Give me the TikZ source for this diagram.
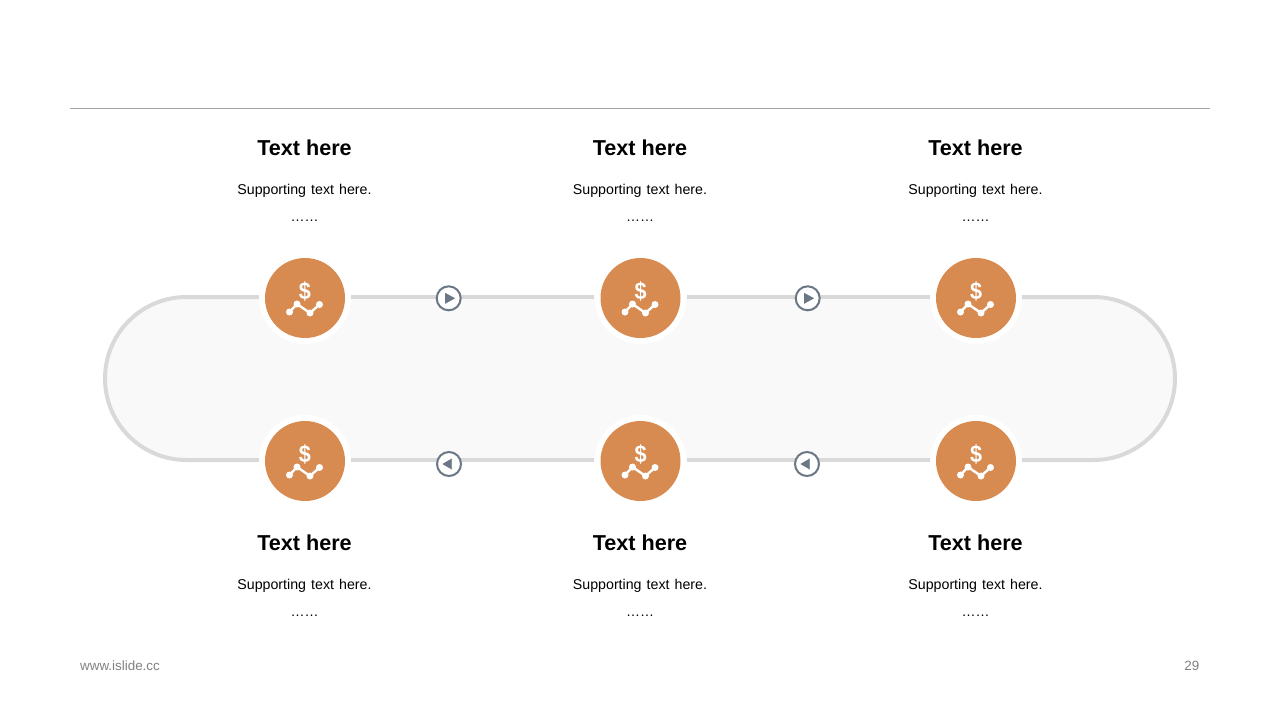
\documentclass[tikz,border=0pt]{standalone}
\usepackage{fontspec}
\setmainfont{Liberation Sans}
\newfontfamily\bodyfont[WordSpace=1.29]{Liberation Sans}
\definecolor{trackgray}{HTML}{D9D9D9}
\definecolor{trackfill}{HTML}{F9F9F9}
\definecolor{coin}{HTML}{D88B50}
\definecolor{slate}{HTML}{6B7784}
\definecolor{rulegray}{HTML}{A6A6A6}
\definecolor{footgray}{HTML}{808080}
\tikzset{
  ring/.style={circle,fill=white,inner sep=0pt,minimum size=92pt},
  coinface/.style={circle,fill=coin,inner sep=0pt,minimum size=80pt},
  track/.style={draw=trackgray,line width=4pt},
  arrowbtn/.style={circle,draw=slate,fill=white,line width=2pt,inner sep=0pt,minimum size=24pt},
  tipshape/.style={fill=slate,draw=slate,line width=0.3pt,line join=round},
  headtext/.style={font=\fontsize{21.6}{24}\selectfont\bfseries,text=black,anchor=center,inner sep=0pt},
  bodytext/.style={font=\bodyfont\fontsize{14.2}{17}\selectfont,text=black,anchor=center,inner sep=0pt},
  dottext/.style={font=\fontsize{14}{17}\selectfont,text=black,anchor=center,inner sep=0pt},
  foot/.style={font=\fontsize{13.4}{16}\selectfont,text=footgray,inner sep=0pt},
  iconline/.style={draw=white,line width=2.4pt,line join=round},
  icondot/.style={circle,fill=white,inner sep=0pt,minimum size=7pt},
  dollar/.style={font=\fontsize{24}{24}\selectfont\bfseries,text=white,inner sep=0pt,xscale=0.9}
}
\newcommand{\moneyicon}[3]{% name, x, y
  \begin{scope}[shift={(#2,#3)}]
    \node[dollar] (#1d) at (0,-7) {\$};
    \node[icondot] (#1p) at (-15.5,14) {};
    \node[icondot] (#1q) at (-8,6) {};
    \node[icondot] (#1r) at (5,15) {};
    \node[icondot] (#1s) at (14.5,6.5) {};
    \draw[iconline] (#1p.center) -- (#1q.center) -- (#1r.center) -- (#1s.center);
  \end{scope}}
\newcommand{\blocktext}[4]{% name, x, title y, dots offset
  \node[headtext] (#1t) at (#2,#3) {Text here};
  \node[bodytext] (#1b) at (#2,#3+43) {Supporting text here.};
  \node[dottext] (#1c) at (#2,#3+#4) {……};}
\begin{document}
\begin{tikzpicture}[x=1pt,y=-1pt]
\useasboundingbox (0,0) rectangle (1280,720);
% rule
\coordinate (ruleL) at (70,108.5);
\coordinate (ruleR) at (1210,108.5);
\draw[rulegray,line width=1pt] (ruleL) -- (ruleR);
% track fill
\fill[trackfill] (186.5,297) -- (1093.5,297) arc[start angle=-90,end angle=90,radius=81.5] -- (186.5,460) arc[start angle=90,end angle=270,radius=81.5] -- cycle;
% ring and coin nodes
\foreach \n/\x/\y in {a/305/298,b/640.5/298,c/976/298,d/305/461,e/640.5/461,f/976/461}{
  \node[ring] (r\n) at (\x,\y) {};
}
% track segments
\draw[track] (ra.east |- 0,297) -- (rb.west |- 0,297);
\draw[track] (rb.east |- 0,297) -- (rc.west |- 0,297);
\draw[track] (rd.east |- 0,460) -- (re.west |- 0,460);
\draw[track] (re.east |- 0,460) -- (rf.west |- 0,460);
\draw[track] (ra.west |- 0,297) -- (186.5,297) arc[start angle=-90,end angle=-270,radius=81.5] -- (rd.west |- 0,460);
\draw[track] (rc.east |- 0,297) -- (1093.5,297) arc[start angle=-90,end angle=90,radius=81.5] -- (rf.east |- 0,460);
\foreach \n/\x/\y in {a/305/298,b/640.5/298,c/976/298,d/305/461,e/640.5/461,f/976/461}{
  \node[coinface] (k\n) at (\x,\y) {};
  \moneyicon{i\n}{\x}{\y}
}
% arrow buttons
\node[arrowbtn] (ab1) at (448.7,298.3) {};
\node[arrowbtn] (ab2) at (807.7,298.3) {};
\node[arrowbtn] (ab3) at (449,464) {};
\node[arrowbtn] (ab4) at (807,464) {};
\foreach \n in {ab1,ab2}{
  \fill[tipshape] ([shift={(-3.5,-5.2)}]\n.center) -- ([shift={(6,0)}]\n.center) -- ([shift={(-3.5,5.2)}]\n.center) -- cycle;
}
\foreach \n in {ab3,ab4}{
  \fill[tipshape] ([shift={(2.7,-5.2)}]\n.center) -- ([shift={(-6.3,0)}]\n.center) -- ([shift={(2.7,5.2)}]\n.center) -- cycle;
}
% texts
\blocktext{ta}{304.5}{148}{73}
\blocktext{tb}{640}{148}{73}
\blocktext{tc}{975.5}{148}{73}
\blocktext{td}{304.5}{543}{73}
\blocktext{te}{640}{543}{73}
\blocktext{tf}{975.5}{543}{73}
% footer
\node[foot,anchor=west] (site) at (80,666) {www.islide.cc};
\node[foot,anchor=east] (page) at (1199.5,666) {29};
\end{tikzpicture}
\end{document}
